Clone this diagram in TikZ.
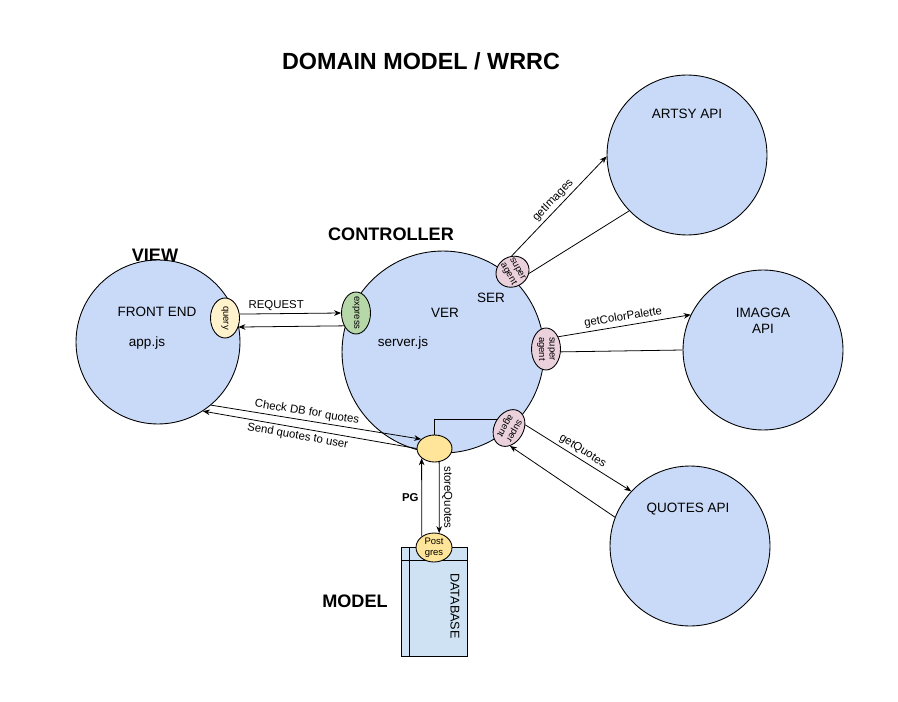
\documentclass[tikz,border=0pt]{standalone}
\usepackage{fontspec}
\setmainfont{Liberation Sans}
\usetikzlibrary{arrows.meta,shapes.geometric}

\definecolor{bubbleblue}{HTML}{C9DAF8}
\definecolor{queryyellow}{HTML}{FFF2CC}
\definecolor{expressgreen}{HTML}{B6D7A8}
\definecolor{agentpink}{HTML}{EAD1DC}
\definecolor{pgyellow}{HTML}{FFE599}
\definecolor{dbblue}{HTML}{CFE2F3}

\begin{document}
\begin{tikzpicture}[x=0.02cm, y=-0.02cm,
		>={Stealth[length=4pt,width=3.2pt]},
		api/.style={circle, draw, line width=0.5pt, fill=bubbleblue, minimum size=3.2cm, inner sep=0pt},
		plug/.style={ellipse, draw, line width=0.5pt, inner xsep=-1pt, inner ysep=0pt, align=center, font=\fontsize{5.4}{6}\selectfont},
		heading/.style={font=\bfseries\fontsize{10.3}{12}\selectfont},
		caption/.style={font=\fontsize{7.7}{9}\selectfont, align=center},
		tag/.style={font=\fontsize{6.5}{7.5}\selectfont, inner sep=1.5pt},
		wire/.style={line width=0.45pt}]
			%%%%% START %%%%%
			
			\useasboundingbox (0, 0) rectangle (898, 702);
			
			\node[font=\bfseries\fontsize{13.3}{16}\selectfont] (title) at (421, 61) {DOMAIN MODEL / WRRC};
			\node[heading] (viewhead) at (155, 255) {VIEW};
			\node[heading] (ctrlhead) at (391, 234) {CONTROLLER};
			\node[heading] (modelhead) at (355, 601) {MODEL};
			
			\node[api, minimum size=3.28cm] (front) at (158, 342) {};
			\node[api, minimum size=4.04cm] (server) at (443, 352) {};
			\node[api] (artsy) at (687, 155) {};
			\node[api] (imagga) at (763, 350) {};
			\node[api] (quotes) at (690, 546) {};
			
			\node[caption] (frontlbl) at (157, 312) {FRONT END};
			\node[caption] (applbl) at (147, 343) {app.js};
			\node[caption] (verlbl) at (445, 313) {VER};
			\node[caption] (serlbl) at (491, 298) {SER};
			\node[caption] (serverlbl) at (403, 343) {server.js};
			\node[caption] (artsylbl) at (687, 114) {ARTSY API};
			\node[caption] (imaggalbl) at (763, 321) {IMAGGA\\API};
			\node[caption] (quoteslbl) at (688, 509) {QUOTES API};
			
			% database
			\node[draw, line width=0.6pt, fill=dbblue, minimum width=1.32cm, minimum height=2.18cm, inner sep=0pt] (db) at (434.5, 602.3) {};
			\draw[line width=0.6pt] ([xshift=0.17cm]db.north west) -- ([xshift=0.17cm]db.south west);
			\draw[line width=0.6pt] ([yshift=-0.27cm]db.north west) -- ([yshift=-0.27cm]db.north east);
			\node[rotate=-90, font=\fontsize{7.2}{9}\selectfont] (dblbl) at (455, 606) {DATABASE};
			
			% plugs on the circles
			\node[plug, fill=queryyellow, rotate=-90, minimum width=0.8cm, minimum height=0.58cm] (query) at (225, 318) {query};
			\node[plug, fill=expressgreen, rotate=-90, minimum width=0.8cm, minimum height=0.58cm] (express) at (356, 313) {express};
			\node[plug, fill=agentpink, rotate=-60, minimum width=0.6cm, minimum height=0.68cm] (artsyagent) at (512.5, 271.7) {super\\agent};
			\node[plug, fill=agentpink, rotate=-90, minimum width=0.84cm, minimum height=0.58cm] (imaggaagent) at (546, 349) {super\\agent};
			\node[plug, fill=agentpink, rotate=-120, minimum width=0.78cm, minimum height=0.58cm] (quotesagent) at (509, 428) {super\\agent};
			\node[plug, fill=pgyellow, minimum width=0.7cm, minimum height=0.54cm] (store) at (434.5, 448.5) {};
			\node[plug, fill=pgyellow, minimum width=0.72cm, minimum height=0.58cm] (postgres) at (434, 547.5) {Post\\gres};
			
			% view <-> controller
			\draw[wire, ->] (query.105) -- node[tag, above, pos=0.36] {REQUEST} (express.270);
			\draw[wire, ->] (express.317) -- (query.56);
			\draw[wire, ->] (front.-50) -- node[tag, sloped, above, pos=0.45] {Check DB for quotes} (store.145);
			\draw[wire, ->] (store.west) -- node[tag, sloped, below, pos=0.55] {Send quotes to user} (front.-57);
			
			% controller <-> model
			\draw[wire, ->] (store.-71) -- node[tag, sloped, above] {storeQuotes} (postgres.70);
			\draw[wire, ->] (postgres.138) -- node[tag, left, font=\bfseries\fontsize{6.5}{7.5}\selectfont] {PG} (store.217);
			\draw[wire] (store.north) |- (quotesagent.265);
			
			% controller <-> apis
			\draw[wire, ->] (artsyagent.153) -- node[tag, sloped, above] {getImages} (artsy.181);
			\draw[wire] (artsy.224) -- (artsyagent.54);
			\draw[wire, ->] (imaggaagent.135) -- node[tag, sloped, above] {getColorPalette} (imagga.154);
			\draw[wire] (imagga.180) -- (imaggaagent.79);
			\draw[wire, ->] (quotesagent.131) -- node[tag, sloped, above] {getQuotes} (quotes.137);
			\draw[wire, ->] (quotes.159) -- (quotesagent.33);
			
			%%%%% END %%%%%
\end{tikzpicture}
\end{document}
